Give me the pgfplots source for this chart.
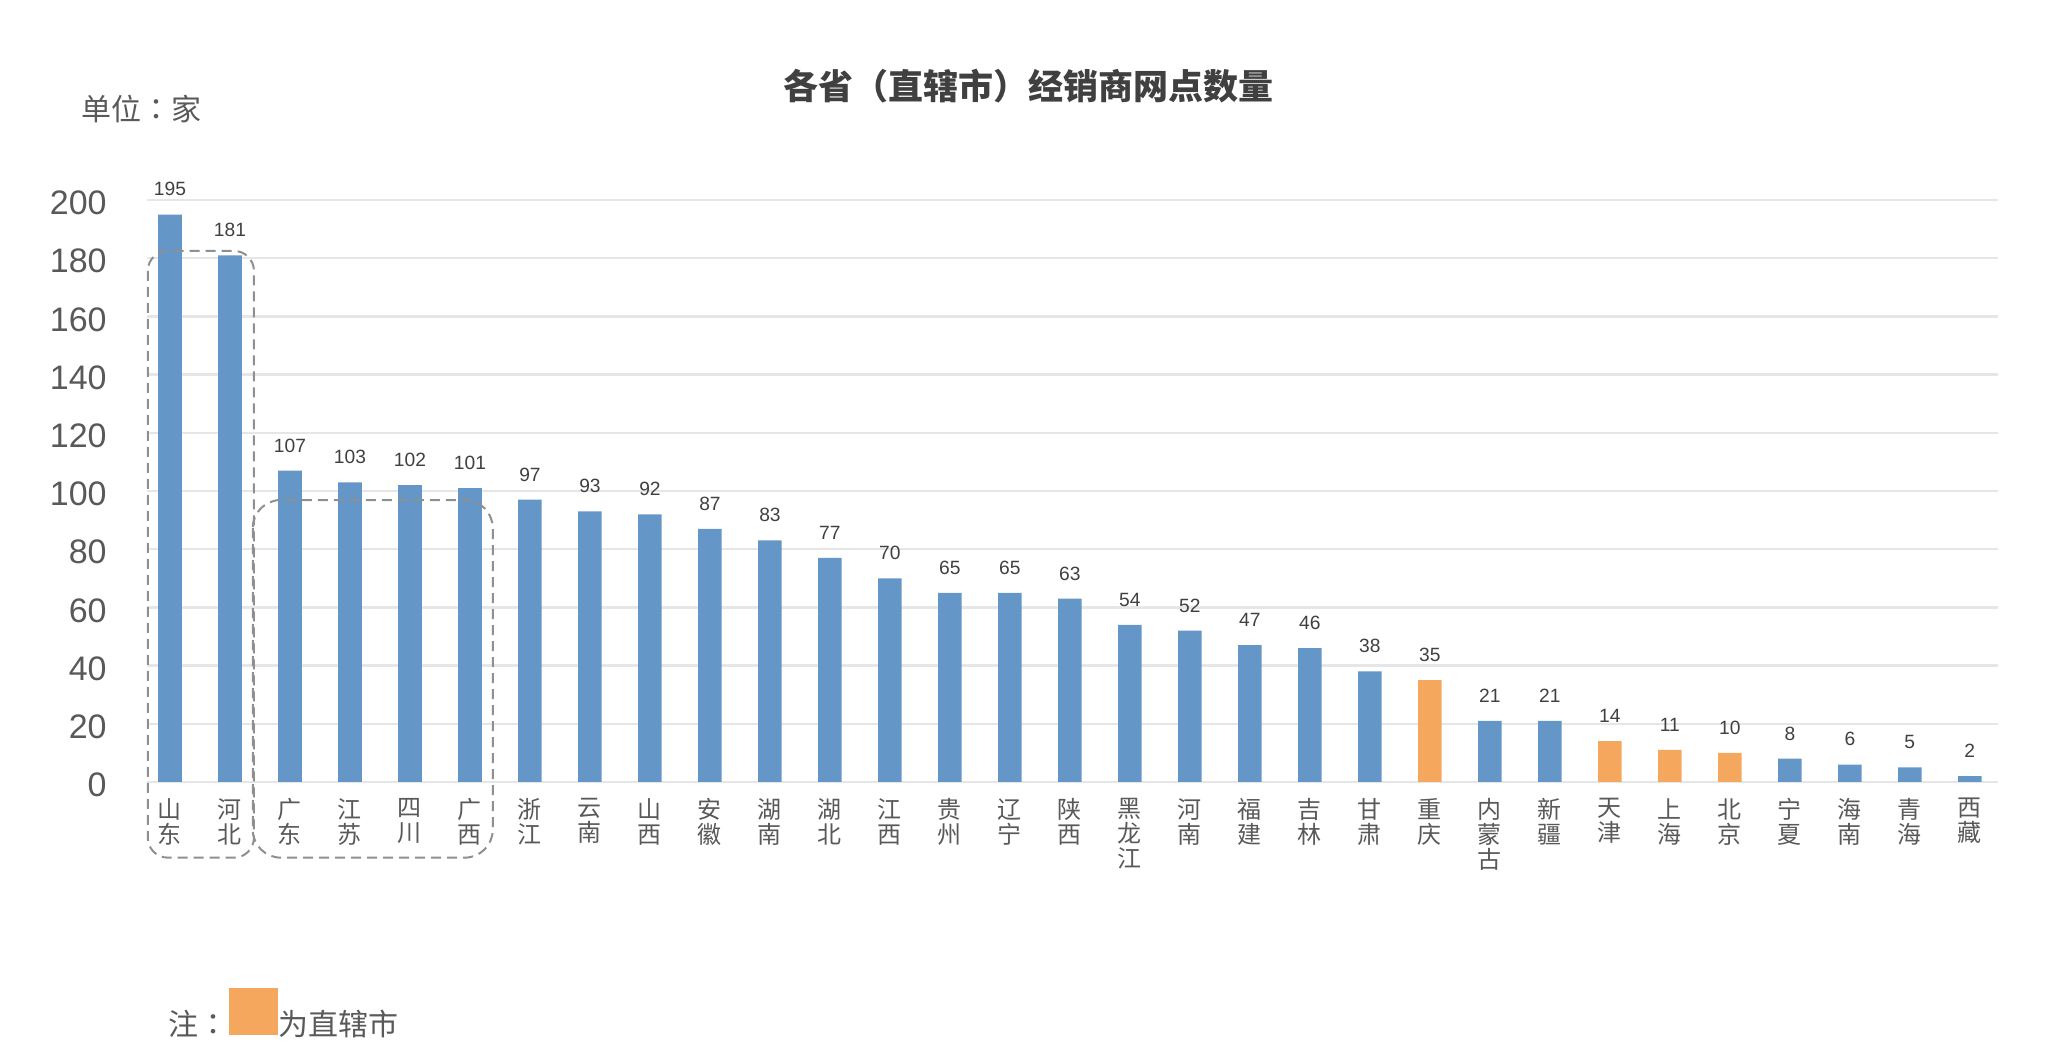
\documentclass[border=0pt]{standalone}
\usepackage{fontspec}
\setmainfont{Liberation Sans}
\newfontfamily\cjk{Noto Sans CJK SC}
\newfontfamily\cjktc{Noto Sans CJK TC}
\usepackage{pgfplots}
\pgfplotsset{compat=1.18}
\definecolor{barblue}{HTML}{6596C8}
\definecolor{barorange}{HTML}{F6A75E}
\definecolor{txt}{HTML}{595959}
\definecolor{ttl}{HTML}{404040}
\definecolor{gridc}{HTML}{E6E6E6}
\definecolor{boxc}{HTML}{8F8F8F}
\begin{document}
\begin{tikzpicture}
\path[use as bounding box] (0pt,0pt) rectangle (1027pt,526pt);
\begin{axis}[
  at={(73.5pt,135pt)}, anchor=south west,
  scale only axis, width=925.5pt, height=291pt,
  xmin=-0.383, xmax=30.47, ymin=0, ymax=200,
  ybar, bar width=11.8pt, bar shift=0pt,
  clip=false,
  axis line style={draw=none},
  major tick length=0pt,
  ymajorgrids, grid style={gridc, line width=1.2pt},
  ytick={0,20,...,200},
  xtick={0,...,30},
  xticklabels={{山\\东},{河\\北},{广\\东},{江\\苏},{四\\川},{广\\西},{浙\\江},{云\\南},{山\\西},{安\\徽},{湖\\南},{湖\\北},{江\\西},{贵\\州},{辽\\宁},{陕\\西},{黑\\龙\\江},{河\\南},{福\\建},{吉\\林},{甘\\肃},{重\\庆},{内\\蒙\\古},{新\\疆},{天\\津},{上\\海},{北\\京},{宁\\夏},{海\\南},{青\\海},{西\\藏}},
  xticklabel style={font=\cjk\fontsize{12}{12.5}\selectfont, align=center, text=txt, anchor=north, inner sep=0pt, yshift=-8pt},
  /pgf/number format/assume math mode=true,
  yticklabel style={font=\fontsize{17}{17}\selectfont, text=txt, anchor=east, inner sep=0pt, xshift=-20pt, yshift=-1.5pt},
  nodes near coords,
  every node near coord/.append style={font=\fontsize{9.6}{10}\selectfont, text=ttl, anchor=south, inner sep=0pt, yshift=9pt},
]
\addplot[fill=barblue, draw=none] coordinates {
(0,195) (1,181) (2,107) (3,103) (4,102) (5,101) (6,97) (7,93) (8,92) (9,87)
(10,83) (11,77) (12,70) (13,65) (14,65) (15,63) (16,54) (17,52) (18,47) (19,46)
(20,38) (22,21) (23,21) (27,8) (28,6) (29,5) (30,2)};
\addplot[fill=barorange, draw=none] coordinates {
(21,35) (24,14) (25,11) (26,10)};
\draw[boxc, line width=1pt, dash pattern=on 5pt off 3pt, rounded corners=10pt]
  (axis cs:-0.37,182.5) rectangle (axis cs:1.4,-26);
\draw[boxc, line width=1pt, dash pattern=on 5pt off 3pt, rounded corners=14pt]
  (axis cs:1.38,96.9) rectangle (axis cs:5.38,-26);
\end{axis}
\node[font=\cjk\bfseries\fontsize{17.5}{20}\selectfont, text=ttl] at (514pt,483pt) {各省{\cjktc（}直辖市{\cjktc）}经销商网点数量};
\node[font=\cjk\fontsize{15}{17}\selectfont, text=txt, anchor=west, inner sep=0pt] at (40.5pt,471.5pt) {单位{\cjktc：}家};
\node[font=\cjk\fontsize{15}{17}\selectfont, text=txt, anchor=west, inner sep=0pt] at (84pt,14pt) {注{\cjktc：}};
\fill[barorange] (114.5pt,8.5pt) rectangle (139pt,32pt);
\node[font=\cjk\fontsize{15}{17}\selectfont, text=txt, anchor=west, inner sep=0pt] at (139pt,14pt) {为直辖市};
\end{tikzpicture}
\end{document}
